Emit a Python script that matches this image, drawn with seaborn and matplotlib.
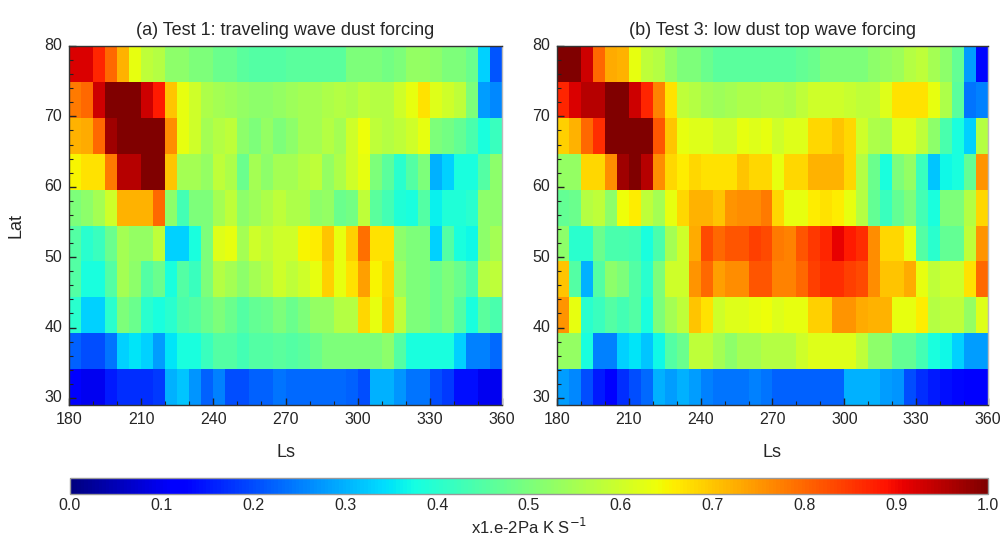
import numpy as np
import pandas as pd
import matplotlib
matplotlib.use("Agg")
import matplotlib.pyplot as plt
import seaborn as sns

# ---------------- data ----------------
ls_centers = [182.5 + 5 * i for i in range(36)]          # Ls bins (5 deg)
lat_labels = ["77.5", "72.5", "67.5", "62.5", "57.5", "52.5", "47.5", "42.5", "37.5", "32.5"]
lat_top, lat_bottom = 80.0, 29.0
ls_ticks = [180, 210, 240, 270, 300, 330, 360]
lat_ticks = [30, 40, 50, 60, 70, 80]
cbar_ticks = [0.0, 0.1, 0.2, 0.3, 0.4, 0.5, 0.6, 0.7, 0.8, 0.9, 1.0]
titles = ["(a) Test 1: traveling wave dust forcing", "(b) Test 3: low dust top wave forcing"]

test1 = [
    [0.92,0.92,0.87,0.80,0.72,0.63,0.58,0.57,0.52,0.52,0.50,0.50,0.48,0.48,0.46,0.45,0.45,0.45,
     0.46,0.46,0.46,0.46,0.46,0.50,0.50,0.50,0.49,0.50,0.53,0.53,0.52,0.50,0.50,0.48,0.33,0.21],
    [0.78,0.80,0.93,1.00,1.00,1.00,0.93,0.88,0.70,0.63,0.60,0.56,0.55,0.54,0.53,0.52,0.52,0.53,
     0.54,0.55,0.55,0.56,0.57,0.56,0.58,0.57,0.57,0.60,0.63,0.67,0.62,0.60,0.58,0.50,0.28,0.26],
    [0.72,0.73,0.80,0.97,1.00,1.00,1.00,1.00,0.76,0.63,0.60,0.55,0.57,0.58,0.52,0.50,0.53,0.50,
     0.52,0.55,0.55,0.57,0.55,0.60,0.64,0.58,0.57,0.58,0.60,0.63,0.50,0.49,0.47,0.44,0.38,0.42],
    [0.65,0.67,0.67,0.78,0.95,0.95,1.00,1.00,0.70,0.55,0.55,0.53,0.58,0.56,0.48,0.55,0.52,0.55,
     0.55,0.57,0.58,0.53,0.56,0.60,0.63,0.50,0.46,0.40,0.45,0.50,0.30,0.33,0.38,0.38,0.45,0.52],
    [0.50,0.52,0.55,0.60,0.72,0.72,0.72,0.80,0.52,0.43,0.50,0.50,0.55,0.58,0.52,0.54,0.56,0.58,
     0.56,0.56,0.52,0.53,0.48,0.49,0.58,0.46,0.43,0.39,0.38,0.45,0.36,0.39,0.39,0.40,0.52,0.52],
    [0.45,0.40,0.42,0.48,0.55,0.53,0.53,0.58,0.33,0.33,0.38,0.50,0.62,0.63,0.55,0.60,0.58,0.60,
     0.60,0.65,0.66,0.70,0.63,0.69,0.79,0.67,0.67,0.52,0.50,0.50,0.33,0.45,0.38,0.37,0.52,0.55],
    [0.45,0.38,0.38,0.45,0.55,0.52,0.45,0.48,0.38,0.45,0.42,0.50,0.57,0.55,0.52,0.55,0.57,0.60,
     0.58,0.60,0.63,0.69,0.63,0.67,0.74,0.65,0.68,0.54,0.50,0.50,0.48,0.50,0.48,0.44,0.57,0.58],
    [0.40,0.33,0.33,0.40,0.50,0.48,0.40,0.38,0.40,0.44,0.45,0.48,0.50,0.48,0.45,0.47,0.48,0.50,
     0.48,0.50,0.53,0.53,0.57,0.57,0.68,0.63,0.69,0.58,0.50,0.50,0.48,0.50,0.45,0.38,0.46,0.44],
    [0.22,0.20,0.20,0.24,0.33,0.35,0.33,0.28,0.35,0.38,0.38,0.42,0.45,0.45,0.43,0.45,0.45,0.46,
     0.45,0.46,0.48,0.50,0.50,0.50,0.50,0.50,0.52,0.45,0.38,0.38,0.38,0.38,0.33,0.25,0.25,0.23],
    [0.12,0.10,0.10,0.15,0.17,0.17,0.17,0.18,0.30,0.32,0.27,0.22,0.25,0.20,0.20,0.22,0.22,0.24,
     0.23,0.23,0.23,0.23,0.23,0.22,0.20,0.30,0.30,0.27,0.24,0.24,0.20,0.18,0.14,0.14,0.10,0.10],
]

test3 = [
    [1.00,1.00,0.93,0.80,0.73,0.72,0.63,0.58,0.57,0.53,0.50,0.50,0.48,0.46,0.46,0.46,0.46,0.46,
     0.46,0.46,0.47,0.48,0.50,0.50,0.50,0.50,0.52,0.53,0.54,0.57,0.58,0.55,0.52,0.47,0.28,0.13],
    [0.87,0.92,0.95,0.95,1.00,1.00,0.93,0.87,0.77,0.67,0.58,0.57,0.55,0.54,0.55,0.56,0.56,0.57,
     0.57,0.56,0.58,0.60,0.60,0.60,0.59,0.58,0.58,0.62,0.67,0.67,0.67,0.63,0.56,0.46,0.24,0.25],
    [0.69,0.72,0.80,0.86,1.00,1.00,1.00,1.00,0.82,0.70,0.63,0.62,0.62,0.60,0.60,0.63,0.62,0.63,
     0.60,0.62,0.62,0.68,0.68,0.70,0.68,0.60,0.56,0.55,0.62,0.62,0.58,0.52,0.44,0.38,0.33,0.57],
    [0.53,0.53,0.68,0.68,0.76,0.97,1.00,0.95,0.76,0.68,0.66,0.68,0.67,0.67,0.67,0.70,0.68,0.68,
     0.63,0.68,0.68,0.72,0.72,0.72,0.68,0.57,0.48,0.38,0.50,0.53,0.42,0.32,0.37,0.38,0.47,0.75],
    [0.47,0.48,0.57,0.58,0.52,0.64,0.66,0.58,0.55,0.63,0.68,0.72,0.72,0.70,0.75,0.76,0.76,0.78,
     0.68,0.63,0.63,0.66,0.67,0.66,0.63,0.57,0.47,0.42,0.47,0.50,0.43,0.38,0.50,0.50,0.57,0.68],
    [0.52,0.40,0.40,0.48,0.44,0.44,0.43,0.38,0.44,0.55,0.60,0.73,0.83,0.80,0.82,0.82,0.84,0.83,
     0.78,0.77,0.82,0.85,0.87,0.91,0.88,0.86,0.76,0.68,0.68,0.63,0.45,0.40,0.47,0.47,0.58,0.75],
    [0.70,0.45,0.30,0.45,0.52,0.50,0.45,0.40,0.50,0.60,0.60,0.75,0.80,0.74,0.76,0.76,0.82,0.82,
     0.77,0.77,0.80,0.84,0.86,0.86,0.84,0.83,0.76,0.70,0.70,0.73,0.63,0.58,0.60,0.60,0.67,0.80],
    [0.75,0.63,0.40,0.42,0.45,0.43,0.45,0.38,0.50,0.55,0.58,0.70,0.67,0.60,0.62,0.62,0.63,0.64,
     0.62,0.63,0.63,0.69,0.69,0.75,0.75,0.73,0.72,0.72,0.63,0.63,0.66,0.57,0.58,0.58,0.53,0.62],
    [0.53,0.53,0.38,0.25,0.25,0.33,0.35,0.32,0.37,0.45,0.48,0.58,0.58,0.55,0.52,0.55,0.55,0.57,
     0.57,0.57,0.60,0.62,0.62,0.62,0.62,0.58,0.52,0.52,0.47,0.47,0.43,0.38,0.37,0.33,0.28,0.28],
    [0.28,0.26,0.20,0.15,0.12,0.17,0.20,0.23,0.30,0.28,0.30,0.28,0.25,0.24,0.24,0.24,0.25,0.24,
     0.22,0.22,0.22,0.22,0.22,0.22,0.30,0.30,0.30,0.28,0.27,0.20,0.17,0.15,0.14,0.13,0.12,0.12],
]

# ---------------- figure ----------------
sns.set_style("white")
plt.rcParams["font.family"] = ["Liberation Sans", "DejaVu Sans"]

fig = plt.figure(figsize=(10.03, 5.45), dpi=100)
ax_a = fig.add_axes([69 / 1003, 1 - 405 / 545, 433 / 1003, 359 / 545])
ax_b = fig.add_axes([557 / 1003, 1 - 405 / 545, 431 / 1003, 359 / 545])
cax = fig.add_axes([70 / 1003, 1 - 494 / 545, 918 / 1003, 16 / 545])

nrow = len(lat_labels)
dlat = (lat_top - lat_bottom) / nrow
dls = ls_centers[1] - ls_centers[0]
ls0 = ls_centers[0] - dls / 2

for ax, vals, title in zip([ax_a, ax_b], [test1, test3], titles):
    df = pd.DataFrame(vals, index=lat_labels, columns=ls_centers)
    sns.heatmap(df, ax=ax, cmap="jet", vmin=0, vmax=1, cbar=False)
    ax.set_axisbelow(False)
    # map Ls / Lat values onto heatmap cell coordinates
    ax.set_xticks([(t - ls0) / dls for t in ls_ticks])
    ax.set_xticklabels([str(t) for t in ls_ticks], rotation=0, fontsize=11.5)
    ax.set_xticks([(t - ls0) / dls for t in range(180, 361, 10)], minor=True)
    ax.set_yticks([(lat_top - t) / dlat for t in lat_ticks])
    ax.set_yticklabels([str(t) for t in lat_ticks], rotation=0, fontsize=11.5)
    ax.set_yticks([(lat_top - t) / dlat for t in range(30, 81, 2)], minor=True)
    ax.tick_params(which="major", direction="in", length=5, width=1, color="#222222",
                   bottom=True, left=True, pad=5)
    ax.tick_params(which="minor", direction="in", length=3, width=0.8, color="#222222",
                   bottom=True, left=True)
    ax.set_xlabel("Ls", fontsize=13, labelpad=12)
    ax.set_ylabel("")
    ax.set_title(title, fontsize=13, pad=8)
    for side, sp in ax.spines.items():
        sp.set_visible(True)
        sp.set_linewidth(1.0)
        sp.set_zorder(3)
        sp.set_color("#333333" if side in ("left", "bottom", "top") else "#bbbbbb")

ax_a.set_ylabel("Lat", fontsize=13, labelpad=14)

cb = fig.colorbar(ax_a.collections[0], cax=cax, orientation="horizontal", ticks=cbar_ticks)
cb.ax.set_xticklabels([f"{t:.1f}" for t in cbar_ticks], fontsize=11.5)
cb.ax.tick_params(length=0, pad=3)
cb.outline.set_edgecolor("#999999")
cb.outline.set_linewidth(1.0)
cb.set_label(r"x1.e-2Pa K S$^{-1}$", fontsize=12, labelpad=3)

fig.savefig("out.png", dpi=100)
